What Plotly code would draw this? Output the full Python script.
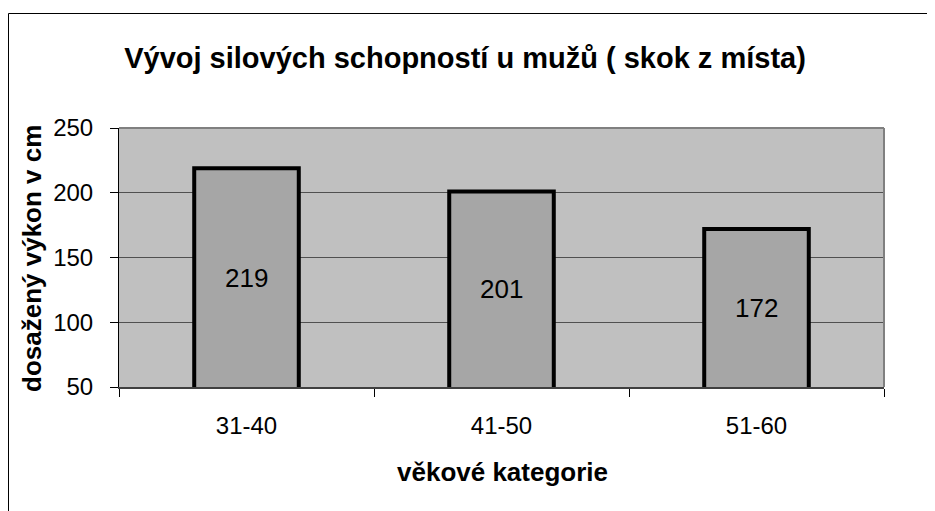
import plotly.graph_objects as go

categories = ["31-40", "41-50", "51-60"]
values = [219, 201, 172]
y_ticks = [50, 100, 150, 200, 250]
y_min, y_max = 50, 250

W, H = 935, 511
OFF = 8  # page body margin in the browser
# target plot area in page pixels: x 119..884, y 128..387
L = 119 - OFF
T = 128 - OFF
R = W - (884 - OFF)
B = H - (387 - OFF)
pw, ph = W - L - R, H - T - B

def px_x(p):
    return (p - OFF - L) / pw

def px_y(p):
    return (H - B - (p - OFF)) / ph

fig = go.Figure()
fig.add_trace(go.Bar(
    x=categories, y=values,
    marker=dict(color="#A6A6A6", line=dict(color="#000000", width=4)),
    width=0.41, textposition="none", hoverinfo="x+y",
))

# value labels centred on the visible part of each bar
for c, v in zip(categories, values):
    fig.add_annotation(x=c, y=(y_min + v) / 2, text=str(v), showarrow=False,
                       xanchor="center", yanchor="middle",
                       font=dict(family="Liberation Sans, Arial", size=26, color="#000000"))

fig.update_layout(
    width=W, height=H,
    margin=dict(l=L, r=R, t=T, b=B),
    paper_bgcolor="#FFFFFF", plot_bgcolor="#C0C0C0",
    showlegend=False,
    font=dict(family="Liberation Sans, Arial", color="#000000"),
    title=dict(text="<b>Vývoj silových schopností u mužů ( skok z místa)</b>",
               x=px_x(465), xref="paper", xanchor="center",
               y=1 - (58 - OFF) / H, yanchor="middle",
               font=dict(size=29, color="#000000")),
    bargap=0.59,
)

fig.update_yaxes(range=[y_min, y_max], tickvals=y_ticks, showgrid=True,
                 gridcolor="#505050", gridwidth=1,
                 showline=True, linecolor="#000000", linewidth=1,
                 ticks="outside", ticklen=8, tickcolor="#000000",
                 tickfont=dict(size=24, color="#000000"), zeroline=False,
                 ticklabelstandoff=12)
fig.update_xaxes(showline=True, linecolor="#404040", linewidth=2,
                 ticks="outside", ticklen=8, tickcolor="#000000",
                 tickson="boundaries",
                 tickfont=dict(size=24, color="#000000"),
                 ticklabelstandoff=16)

# gray plot border (top and right)
fig.add_shape(type="line", xref="paper", yref="paper", x0=0, x1=1, y0=1, y1=1,
              line=dict(color="#808080", width=2))
fig.add_shape(type="line", xref="paper", yref="paper", x0=1, x1=1, y0=0, y1=1,
              line=dict(color="#808080", width=2))

# outer chart frame (left and top visible)
fig.add_shape(type="line", xref="paper", yref="paper",
              x0=px_x(8.5), x1=px_x(950), y0=px_y(13.5), y1=px_y(13.5),
              line=dict(color="#000000", width=1))
fig.add_shape(type="line", xref="paper", yref="paper",
              x0=px_x(8.5), x1=px_x(8.5), y0=px_y(13.5), y1=px_y(530),
              line=dict(color="#000000", width=1))

fig.add_annotation(text="<b>věkové kategorie</b>", xref="paper", yref="paper",
                   x=px_x(502), y=px_y(472), showarrow=False,
                   xanchor="center", yanchor="middle",
                   font=dict(size=26, color="#000000"))
fig.add_annotation(text="<b>dosažený výkon v cm</b>", xref="paper", yref="paper",
                   x=px_x(32), y=px_y(259), showarrow=False, textangle=-90,
                   xanchor="center", yanchor="middle",
                   font=dict(size=26, color="#000000"))

fig.write_html("out.html")
